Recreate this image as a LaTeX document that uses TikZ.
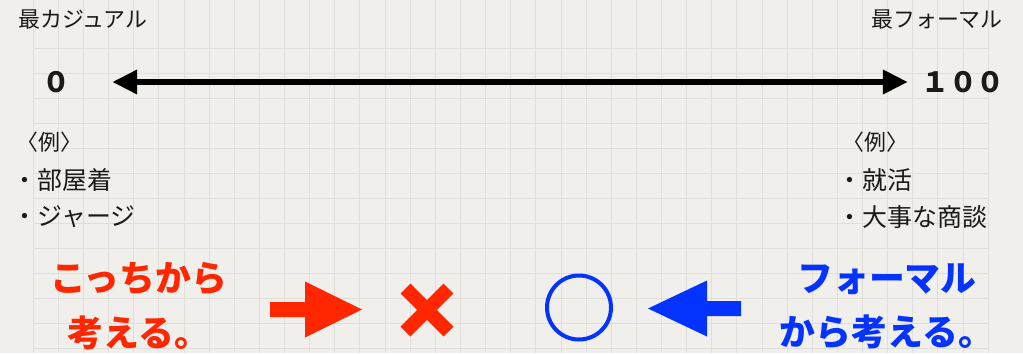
\documentclass[tikz,border=0pt]{standalone}
\usepackage{fontspec}
\setmainfont{Noto Sans CJK JP}
\usetikzlibrary{arrows.meta}
\definecolor{paper}{HTML}{F0EFEB}
\definecolor{gridc}{HTML}{DFDED9}
\definecolor{ink}{HTML}{1A1A1A}
\definecolor{kred}{RGB}{255,38,0}
\definecolor{kblue}{RGB}{4,51,255}
\tikzset{
  gridline/.style={draw=gridc, line width=1bp},
  toplabel/.style={inner sep=0pt, text=ink, font=\fontsize{22}{26}\selectfont},
  numlabel/.style={inner sep=0pt, text=ink, font=\fontsize{28}{32}\selectfont\bfseries},
  exhead/.style={inner sep=0pt, anchor=west, text=ink, font=\fontsize{22}{26}\selectfont},
  exitem/.style={inner sep=0pt, anchor=west, text=ink, font=\fontsize{25}{30}\selectfont},
  bigtext/.style={inner sep=0pt, align=center, font=\fontsize{36}{54.5}\selectfont\bfseries},
  scale arrow/.style={draw=black, line width=6.5bp, {Triangle[length=25bp,width=23bp]}-{Triangle[length=25bp,width=23bp]}},
}
\begin{document}
\begin{tikzpicture}[x=1bp,y=-1bp]
\useasboundingbox (0,0) rectangle (1023,353);
\fill[paper] (0,0) rectangle (1023,353);
% grid
\foreach \i in {0,...,38} \draw[gridline] ({33.3+\i*25.13},0) -- ({33.3+\i*25.13},353);
\foreach \j in {0,...,12} \draw[gridline] (33.3,{48+\j*25}) -- (988.3,{48+\j*25});

% top labels
\node[toplabel, anchor=west] (casual) at (18,20) {最カジュアル};
\node[toplabel, anchor=east] (formal) at (1003,20) {最フォーマル};

% scale
\node[numlabel] (zero) at (56,82) {０};
\node[numlabel] (hundred) at (963,82) {１００};
\draw[scale arrow, shorten <=42bp, shorten >=13bp] (zero.east) -- (hundred.west);

% examples
\node[exhead] (exL) at (16,142) {〈例〉};
\node[exitem] (l1) at (12.5,180) {・部屋着};
\node[exitem] (l2) at (12.5,217) {・ジャージ};
\node[exhead] (exR) at (842,142) {〈例〉};
\node[exitem] (r1) at (837.5,180) {・就活};
\node[exitem] (r2) at (837.5,217) {・大事な商談};

% bottom
\node[bigtext, text=kred] (redtext) at (139,306) {こっちから\\考える。};
\node[bigtext, text=kblue] (bluetext) at (887,306.5) {フォーマル\\から考える。};

\fill[kred] (270,302) -- (305,302) -- (305,281.5) -- (362,309.5) -- (305,337.5) -- (305,317) -- (270,317) -- cycle;
\draw[kred, line width=14bp] (405.5,288.5) -- (448.5,331.5) (405.5,331.5) -- (448.5,288.5);
\draw[kblue, line width=4bp] (579,307.5) circle[radius=32bp];
\fill[kblue] (741,301) -- (707,301) -- (707,280.5) -- (648,308.5) -- (707,336.5) -- (707,316) -- (741,316) -- cycle;
\end{tikzpicture}
\end{document}
